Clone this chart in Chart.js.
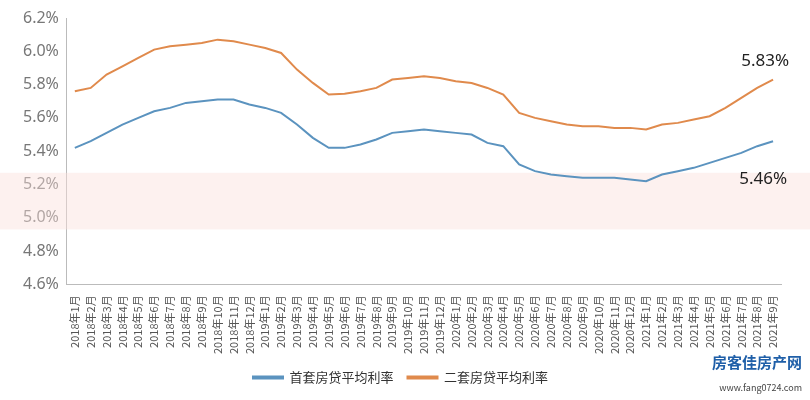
<!DOCTYPE html>
<html lang="zh">
<head>
<meta charset="UTF-8">
<title>房贷平均利率</title>
<script src="https://cdn.jsdelivr.net/npm/chart.js"></script>
<style>
  body { margin: 0; background: #fff; }
  #wrap { width: 810px; height: 400px; position: relative; }
  .logo { position: absolute; right: 8px; bottom: 4px; font-family: "Noto Sans CJK SC", sans-serif; color: #1f5fa8; text-align: right; }
  .logo b { font-size: 15px; display: block; }
  .logo span { font-size: 9px; color: #444; }
</style>
</head>
<body>
<div id="wrap">
  <canvas id="c" width="810" height="400"></canvas>
  <div class="logo"><b>房客佳房产网</b><span>www.fang0724.com</span></div>
</div>
<script>
const labels = [];
for (let y = 2018; y <= 2021; y++) {
  for (let m = 1; m <= 12; m++) {
    if (y === 2021 && m > 9) break;
    labels.push(y + '年' + m + '月');
  }
}
const firstHome = [5.42,5.46,5.51,5.56,5.60,5.64,5.66,5.69,5.70,5.71,5.71,5.68,
  5.66,5.63,5.56,5.48,5.42,5.42,5.44,5.47,5.51,5.52,5.53,5.52,
  5.51,5.50,5.45,5.43,5.32,5.28,5.26,5.25,5.24,5.24,5.24,5.23,
  5.22,5.26,5.28,5.30,5.33,5.36,5.39,5.43,5.46];
const secondHome = [5.76,5.78,5.86,5.91,5.96,6.01,6.03,6.04,6.05,6.07,6.06,6.04,
  6.02,5.99,5.89,5.81,5.74,5.745,5.76,5.78,5.83,5.84,5.85,5.84,
  5.82,5.81,5.78,5.74,5.63,5.60,5.58,5.56,5.55,5.55,5.54,5.54,
  5.53,5.56,5.57,5.59,5.61,5.66,5.72,5.78,5.83];
const yTicks = [4.6,4.8,5.0,5.2,5.4,5.6,5.8,6.0,6.2];

const extras = {
  id: 'extras',
  beforeDatasetsDraw(chart) {
    const { ctx, scales } = chart;
    const top = scales.y.getPixelForValue(5.27), bot = scales.y.getPixelForValue(4.93);
    ctx.save();
    ctx.fillStyle = 'rgba(250,225,220,0.45)';
    ctx.fillRect(0, top, chart.width, bot - top);
    ctx.restore();
  },
  afterDatasetsDraw(chart) {
    const { ctx, scales } = chart;
    const last = labels.length - 1;
    const x = scales.x.getPixelForValue(last);
    ctx.save();
    ctx.font = '17px "Noto Sans", sans-serif';
    ctx.fillStyle = '#222';
    ctx.textAlign = 'right';
    ctx.fillText(secondHome[last].toFixed(2) + '%', x + 16, scales.y.getPixelForValue(secondHome[last]) - 18);
    ctx.fillText(firstHome[last].toFixed(2) + '%', x + 14, scales.y.getPixelForValue(firstHome[last]) + 38);
    ctx.restore();
  }
};

new Chart(document.getElementById('c'), {
  type: 'line',
  data: {
    labels: labels,
    datasets: [
      { label: '首套房贷平均利率', data: firstHome, borderColor: '#5b93bf', backgroundColor: '#5b93bf', borderWidth: 2, pointRadius: 0, tension: 0 },
      { label: '二套房贷平均利率', data: secondHome, borderColor: '#e08a4c', backgroundColor: '#e08a4c', borderWidth: 2, pointRadius: 0, tension: 0 }
    ]
  },
  options: {
    responsive: false,
    animation: false,
    layout: { padding: { left: 20, right: 29, top: 18, bottom: 6 } },
    plugins: {
      legend: {
        position: 'bottom',
        labels: { boxWidth: 30, boxHeight: 2, padding: 14, color: '#333', font: { family: '"Noto Sans CJK SC", sans-serif', size: 13 } }
      },
      tooltip: { enabled: false }
    },
    scales: {
      x: {
        offset: true,
        grid: { display: false, drawTicks: true },
        border: { color: '#bbb' },
        ticks: { autoSkip: false, maxRotation: 90, minRotation: 90, color: '#555', font: { family: '"Noto Sans CJK SC", sans-serif', size: 11 } }
      },
      y: {
        min: 4.6, max: 6.2,
        afterBuildTicks(axis) { axis.ticks = yTicks.map(v => ({ value: v })); },
        grid: { display: false, drawTicks: true, tickLength: 5 },
        border: { color: '#bbb' },
        ticks: { color: '#777', font: { family: '"Noto Sans", sans-serif', size: 16 }, callback: v => v.toFixed(1) + '%' }
      }
    }
  },
  plugins: [extras]
});
</script>
</body>
</html>
